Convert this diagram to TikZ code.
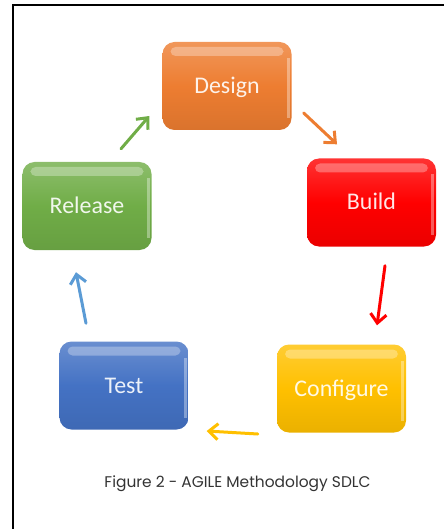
\documentclass[tikz,border=0pt]{standalone}
\usepackage{fontspec}
\usepackage{tikz}
\usetikzlibrary{arrows.meta,calc}

\newfontfamily\stagefont{Carlito}
\newfontfamily\captionfont{Poppins}

\definecolor{designorange}{HTML}{ED7D31}
\definecolor{buildred}{HTML}{FF0000}
\definecolor{configgold}{HTML}{FFC000}
\definecolor{testblue}{HTML}{4472C4}
\definecolor{releasegreen}{HTML}{70AD47}
\definecolor{arrowblue}{HTML}{5B9BD5}

\tikzset{
  stage/.style={rounded corners=12bp, minimum width=129bp, minimum height=88bp,
    top color=#1!80!white, bottom color=#1!92!black, middle color=#1,
    text=white!90!#1, font=\stagefont\fontsize{24}{28}\selectfont,
    text height=20bp, text depth=5bp,
    path picture={
      % glossy band along the top and a thin shine on the right
      \fill[white, opacity=0.3, rounded corners=5bp]
        ($(path picture bounding box.north west)+(8,5)$) rectangle
        ($(path picture bounding box.north east)+(-8,14)$);
      \fill[white, opacity=0.35, sharp corners]
        ($(path picture bounding box.north east)+(-5,16)$) rectangle
        ($(path picture bounding box.south east)+(-2,-12)$);
    }},
  flow/.style={draw=#1, line width=3bp, line cap=round,
    -{Straight Barb[length=9bp, width=16bp]}}
}

\begin{document}
\begin{tikzpicture}[x=1bp, y=-1bp]

  \useasboundingbox (0,0) rectangle (444,529);
  \draw[line width=2bp] (13,529) -- (13,5) -- (444,5);

  \node[stage=designorange]  (design)    at (227,86)      {Design};
  \node[stage=buildred]      (build)     at (371.5,202.5) {Build};
  \node[stage=configgold]    (configure) at (341.5,388.5) {Configure};
  \node[stage=testblue]      (test)      at (124,385.5)   {Test};
  \node[stage=releasegreen]  (release)   at (87,206)      {Release};

  % short arrows in the gaps between the stages
  \draw[flow=releasegreen] ($(release.north)+(34,-13)$) -- ($(design.west)+(-13,30)$);
  \draw[flow=designorange] ($(design.east)+(12,27)$)    -- ($(build.north)+(-34.5,-14)$);
  \draw[flow=buildred]     ($(build.south)+(13.5,19)$)  -- ($(configure.north)+(35.5,-19)$);
  \draw[flow=configgold]   ($(configure.west)+(-19,45.5)$) -- ($(test.east)+(18,45.5)$);
  \draw[flow=arrowblue]    ($(test.north)+(-38,-18)$)   -- ($(release.south)+(-11,22)$);

  \node[font=\captionfont\fontsize{15.5}{18}\selectfont, text=black!80] (caption)
    at (237.5,484) {Figure 2 - AGILE Methodology SDLC};

\end{tikzpicture}
\end{document}
